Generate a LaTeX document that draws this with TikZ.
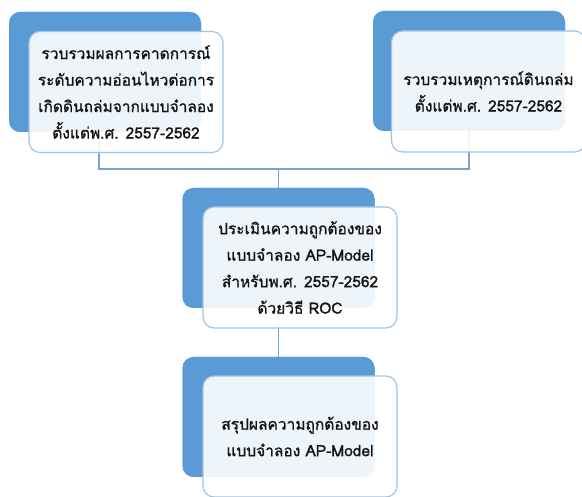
\documentclass[tikz,border=0pt]{standalone}
\usepackage{fontspec}
\newfontfamily\thaifont[Script=Thai,FakeBold=1.2]{Loma}
\definecolor{backblue}{RGB}{91,155,213}
\definecolor{frontedge}{RGB}{157,195,230}
\definecolor{linkblue}{RGB}{122,163,210}
\definecolor{inktext}{RGB}{20,20,20}
\tikzset{
  backbox/.style={draw=none, fill=backblue, rounded corners=11pt, minimum width=192pt, minimum height=120pt, inner sep=0pt},
  frontbox/.style={draw=frontedge, line width=1.1pt, fill=white, fill opacity=0.9, text opacity=1, text=inktext, rounded corners=11pt, minimum width=194pt, minimum height=121pt, inner sep=0pt, align=center, font=\thaifont\fontsize{15.5}{26.5}\selectfont},
  link/.style={draw=linkblue, line width=1.5pt}
}
\begin{document}
\begin{tikzpicture}[x=1pt,y=-1pt]
\useasboundingbox (0,0) rectangle (582,497);
% back boxes
\node[backbox] (b1back) at (105,72) {};
\node[backbox] (b2back) at (469,71) {};
\node[backbox] (b3back) at (278.5,248) {};
\node[backbox] (b4back) at (278.5,417) {};
% connectors
\coordinate (j) at (278.5,169);
\draw[link] ([xshift=-6pt]b1back.south) |- (j);
\draw[link] (b2back.south) |- (j);
\draw[link] (j) -- (b3back.north);
\draw[link] (b3back.south) -- (b4back.north);
% redraw back boxes over links
\node[backbox] at (b1back) {};
\node[backbox] at (b2back) {};
\node[backbox] at (b3back) {};
\node[backbox] at (b4back) {};
% front boxes
\node[frontbox] (b1) at (126,92) {รวบรวมผลการคาดการณ์\\ระดับความอ่อนไหวต่อการ\\เกิดดินถล่มจากแบบจำลอง\\ตั้งแต่พ.ศ. 2557-2562};
\node[frontbox] (b2) at (488.5,91.5) {รวบรวมเหตุการณ์ดินถล่ม\\ตั้งแต่พ.ศ. 2557-2562};
\node[frontbox] (b3) at (300,267.5) {ประเมินความถูกต้องของ\\แบบจำลอง AP-Model\\สำหรับพ.ศ. 2557-2562\\ด้วยวิธี ROC};
\node[frontbox] (b4) at (300,436.5) {สรุปผลความถูกต้องของ\\แบบจำลอง AP-Model};
\end{tikzpicture}
\end{document}
